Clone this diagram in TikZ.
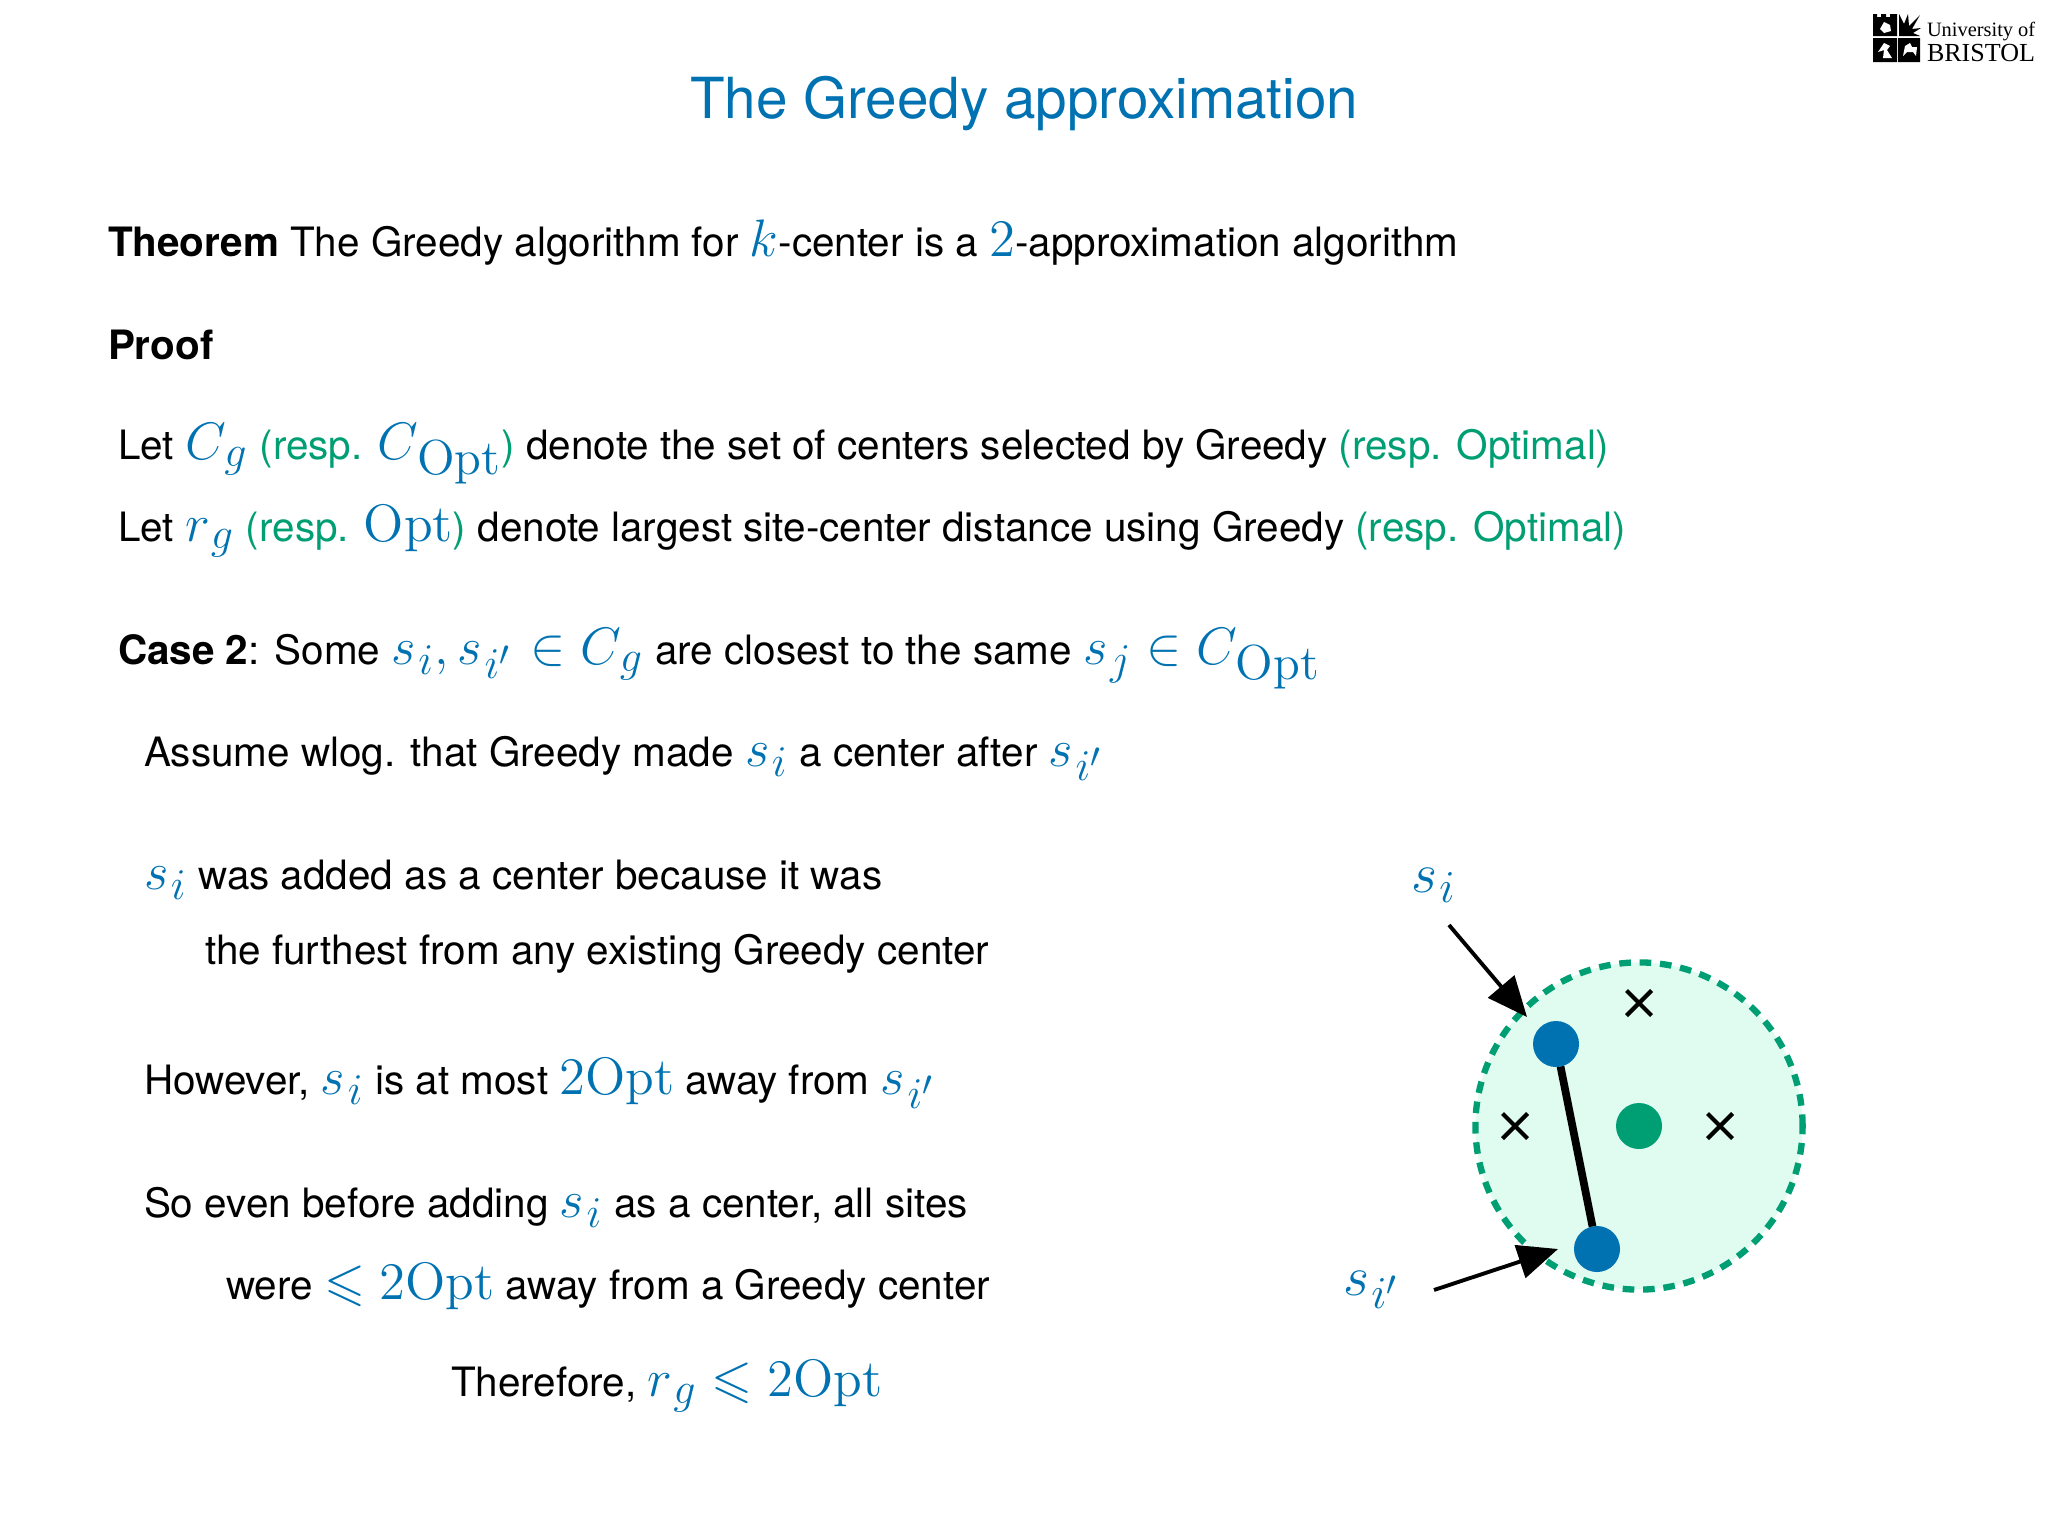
\documentclass[tikz,border=0pt]{standalone}
\usepackage{fix-cm}
\usepackage{amssymb}
\usepackage[no-math]{fontspec}
\setmainfont{TeX Gyre Heros}
\newfontfamily\logofont{Liberation Serif}
\usetikzlibrary{arrows.meta,shapes.misc}
\definecolor{brisblue}{HTML}{0072B2}
\definecolor{brisgreen}{HTML}{009E73}
\definecolor{brismint}{HTML}{E0FCF0}
\DeclareMathSizes{15}{15}{12.5}{10}
\DeclareMathSizes{16}{16}{13}{10}
\newcommand{\mth}[1]{{\fontsize{15}{15}\selectfont\color{brisblue}$#1$}}
\newcommand{\grn}[1]{{\color{brisgreen}#1}}
\newcommand{\copt}{C_{\kern.7pt\mbox{\fontsize{14}{14}\selectfont$\mathrm{Opt}$}}}
\newcommand{\cg}{C_{\kern.7pt g}}
\newcommand{\rg}{r_{\kern.7pt g}}
\newcommand{\si}{s_{\kern.7pt i}}
\newcommand{\sip}{s_{\kern.7pt i'\kern1pt}}
\begin{document}
\begin{tikzpicture}[x=0.01cm,y=-0.01cm,inner sep=0pt,outer sep=0pt,
line/.style={anchor=base west,font=\fontsize{11.5}{14}\selectfont},
tag/.style={anchor=base west,font=\fontsize{16}{16}\selectfont,text=brisblue},
site/.style={draw=none,circle,fill=brisblue,minimum size=4.6mm},
optc/.style={site,fill=brisgreen},
crossm/.style={cross out,draw=black,line width=1.2pt,minimum size=2.5mm},
pointer/.style={-{Triangle[length=4mm,width=3.4mm]},line width=1.1pt}]
\useasboundingbox (0,0) rectangle (2048,1536);

\node[anchor=base,font=\fontsize{16.1}{20}\selectfont,text=brisblue] (title) at (1024,118) {The Greedy approximation};

\node[line] (thm) at (108,256) {\textbf{Theorem} The Greedy algorithm for \mth{k}-center is a \mth{2}-approximation algorithm};
\node[line] (proof) at (108,359) {\textbf{Proof}};
\node[line] (letc) at (118,459) {Let \mth{\cg} \grn{(resp.} \mth{\copt}\grn{)} denote the set of centers selected by Greedy \grn{(resp. Optimal)}};
\node[line] (letr) at (118,541) {Let \mth{\rg} \grn{(resp.} \mth{\mathrm{Opt}}\grn{)} denote largest site-center distance using Greedy \grn{(resp. Optimal)}};
\node[line] (case) at (118,664) {\textbf{Case 2}: Some \mth{\si, \sip\in \cg} are closest to the same \mth{s_{\kern.7pt j}\in \copt}};
\node[line] (wlog) at (144,766) {Assume wlog. that Greedy made \mth{\si} a center after \mth{\sip}};
\node[line] (added) at (144,889) {\mth{\si} was added as a center because it was};
\node[line] (far) at (205,964) {the furthest from any existing Greedy center};
\node[line] (most) at (144,1094) {However, \mth{\si} is at most \mth{2\mathrm{Opt}} away from \mth{\sip}};
\node[line] (even) at (144,1217) {So even before adding \mth{\si} as a center, all sites};
\node[line] (were) at (226,1299) {were \mth{\leqslant 2\mathrm{Opt}} away from a Greedy center};
\node[line] (there) at (451,1396) {Therefore, \mth{\rg\leqslant 2\mathrm{Opt}}};

% logo
\fill (1873,14) -- (1877,14) -- (1877,17) -- (1881,17) -- (1881,14) -- (1886,14) -- (1886,17) -- (1890,17) -- (1890,14) -- (1897,14) -- (1897,36) -- (1873,36) -- cycle;
\fill (1873,38) rectangle (1897,62) (1898,38) rectangle (1920,62);
\fill (1899,36) -- (1899,14) -- (1904,24) -- (1908,14) -- (1909,26) -- (1920,15) -- (1912,29) -- (1921,28) -- (1913,33) -- (1920,36) -- cycle;
\fill[white] (1880,29) -- (1884,22) -- (1890,25) -- (1891,31) -- (1884,33) -- cycle;
\fill[white] (1878,52) -- (1884,43) -- (1890,46) -- (1887,50) -- (1892,58) -- (1883,58) -- (1884,50) -- cycle;
\fill[white] (1903,56) -- (1905,46) -- (1910,43) -- (1912,47) -- (1917,47) -- (1916,56) -- (1913,52) -- (1907,52) -- cycle;
\node[anchor=base west,font=\logofont\fontsize{5.8}{7}\selectfont] (univ) at (1927,36) {University of};
\node[anchor=base west,font=\logofont\fontsize{7.4}{8}\selectfont] (bris) at (1927,61) {BRISTOL};

% the optimal cluster
\node[draw=brisgreen,fill=brismint,circle,minimum size=3.27cm,line width=1.8pt,dash pattern=on 3.3pt off 2.5pt] (disc) at (1639,1126) {};
\node[optc] (ctr) at (1639,1126) {};
\node[site] (si) at (1556,1044) {};
\node[site] (sj) at (1597,1249) {};
\node[crossm] (x1) at (1639,1003) {};
\node[crossm] (x2) at (1515,1126) {};
\node[crossm] (x3) at (1720,1126) {};
\draw[line width=2.2pt] (si) -- (sj);

\node[tag] (lsi) at (1411,892) {$\si$};
\node[tag] (lsj) at (1343,1295) {$\sip$};
\coordinate (a1) at (1449,925);
\coordinate (b1) at (1527,1017);
\coordinate (a2) at (1434,1290);
\coordinate (b2) at (1558,1249);
\draw[pointer] (a1) -- (b1);
\draw[pointer] (a2) -- (b2);
\end{tikzpicture}
\end{document}
